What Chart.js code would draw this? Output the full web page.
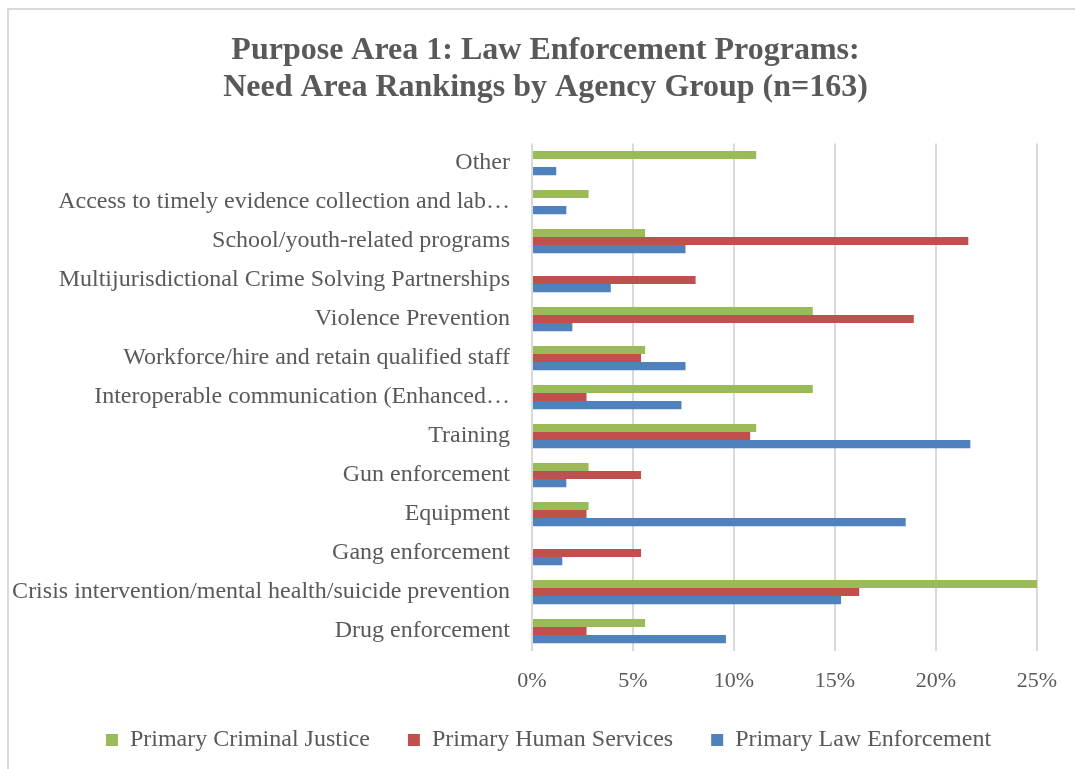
<!DOCTYPE html>
<html>
<head>
<meta charset="utf-8">
<script src="https://cdn.jsdelivr.net/npm/chart.js"></script>
<style>
	html, body { margin: 0; padding: 0; overflow: hidden; background: #fff; }
	#frame { position: absolute; left: 7px; top: 8px; width: 1100px; height: 800px; border: 2px solid #d9d9d9; }
	#chart { position: absolute; left: 0; top: 0; }
</style>
</head>
<body>
	<div id="frame"></div>
	<canvas id="chart" width="1075" height="769"></canvas>
	<script>
		// categories, top to bottom as in the picture
		const categories = [
			'Other',
			'Access to timely evidence collection and lab…',
			'School/youth-related programs',
			'Multijurisdictional Crime Solving Partnerships',
			'Violence Prevention',
			'Workforce/hire and retain qualified staff',
			'Interoperable communication (Enhanced…',
			'Training',
			'Gun enforcement',
			'Equipment',
			'Gang enforcement',
			'Crisis intervention/mental health/suicide prevention',
			'Drug enforcement'
		];
		// percent values
		const criminalJustice = [11.1, 2.8, 5.6, 0, 13.9, 5.6, 13.9, 11.1, 2.8, 2.8, 0, 25.0, 5.6];
		const humanServices = [0, 0, 21.6, 8.1, 18.9, 5.4, 2.7, 10.8, 5.4, 2.7, 5.4, 16.2, 2.7];
		const lawEnforcement = [1.2, 1.7, 7.6, 3.9, 2.0, 7.6, 7.4, 21.7, 1.7, 18.5, 1.5, 15.3, 9.6];
		const xTicks = [0, 5, 10, 15, 20, 25];

		const txt = '#595959';
		Chart.defaults.font.family = "'Liberation Serif', 'Times New Roman', serif";
		Chart.defaults.color = txt;

		const data = {
			labels: categories,
			datasets: [
				{ label: 'Primary Criminal Justice', data: criminalJustice, backgroundColor: '#9bbb59' },
				{ label: 'Primary Human Services', data: humanServices, backgroundColor: '#c0504d' },
				{ label: 'Primary Law Enforcement', data: lawEnforcement, backgroundColor: '#4f81bd' }
			]
		};

		// excel centres title + legend on the whole frame, not the padded area -> nudge them
		const nudge = {
			id: 'nudge',
			afterLayout(chart) {
				const lg = chart.legend;
				lg.left += 28; lg.right += 28;
				lg.top -= 21; lg.bottom -= 21;
				const tb = chart.titleBlock;
				tb.left += 25; tb.right += 25;
			}
		};

		const chart = new Chart(document.getElementById('chart'), {
			type: 'bar',
			data: data,
			plugins: [nudge],
			options: {
				indexAxis: 'y',
				responsive: false,
				devicePixelRatio: 1,
				animation: false,
				layout: { padding: { left: 4, right: 38, top: 20, bottom: -14 } },
				datasets: { bar: { categoryPercentage: 0.617, barPercentage: 1.0 } },
				plugins: {
					tooltip: { enabled: false },
					title: {
						display: true,
						text: ['Purpose Area 1: Law Enforcement Programs:', 'Need Area Rankings by Agency Group (n=163)'],
						font: { size: 32, weight: 'bold', lineHeight: 1.15 },
						color: txt,
						padding: { top: 12.5, bottom: 37.5 }
					},
					legend: {
						position: 'bottom',
						labels: { boxWidth: 12, boxHeight: 12, font: { size: 24 }, color: txt, padding: 38 }
					}
				},
				scales: {
					x: {
						min: 0,
						max: 25,
						afterBuildTicks: (axis) => { axis.ticks = xTicks.map(v => ({ value: v })); },
						ticks: { callback: v => v + '%', font: { size: 22 }, color: txt, padding: 17 },
						grid: { color: '#d9d9d9', lineWidth: 2, drawTicks: false },
						border: { display: false }
					},
					y: {
						afterFit: (axis) => { axis.width = 532 - 4; },
						ticks: { font: { size: 24 }, color: txt, padding: 14, autoSkip: false },
						grid: { display: false },
						border: { display: false }
					}
				}
			}
		});
	</script>
</body>
</html>
